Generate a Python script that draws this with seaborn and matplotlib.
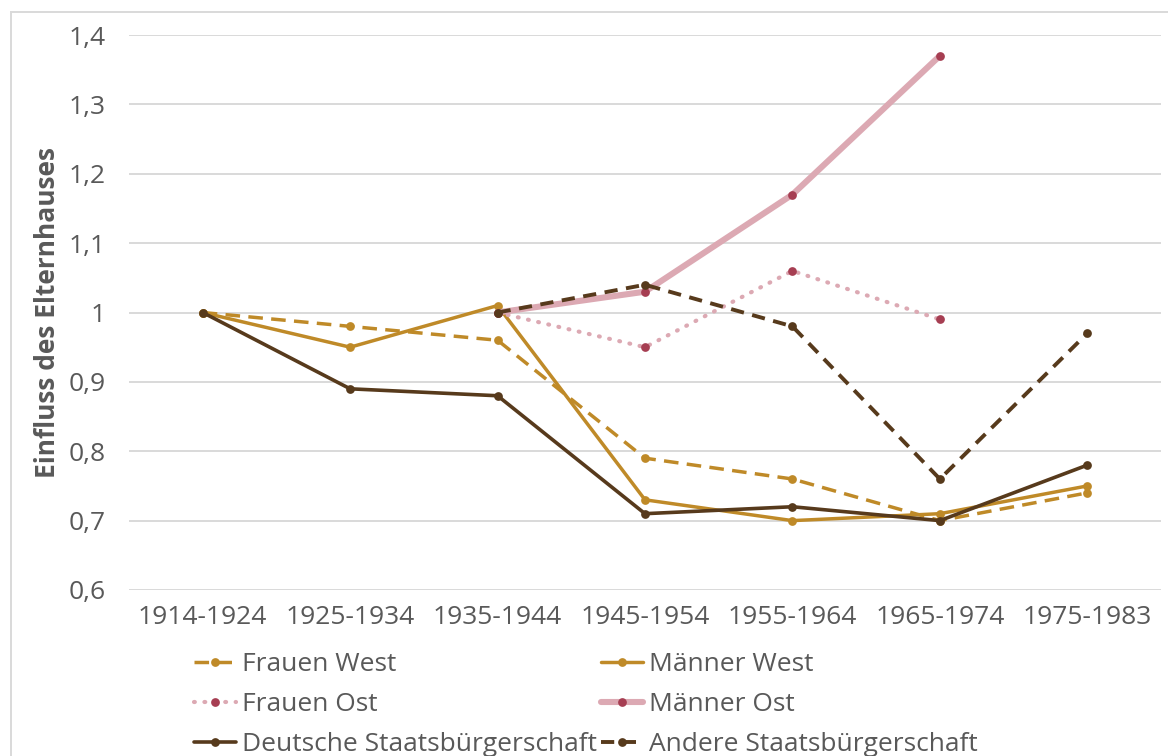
import numpy as np
import matplotlib
matplotlib.use("Agg")
import matplotlib.pyplot as plt
from matplotlib.patches import Rectangle
from matplotlib.ticker import FuncFormatter
import seaborn as sns

# Birth cohorts
cohorts = ["1914-1924", "1925-1934", "1935-1944", "1945-1954",
           "1955-1964", "1965-1974", "1975-1983"]

# Influence of the parental home, per group (None = no estimate)
frauen_west = [1.00, 0.98, 0.96, 0.79, 0.76, 0.70, 0.74]
maenner_west = [1.00, 0.95, 1.01, 0.73, 0.70, 0.71, 0.75]
frauen_ost = [None, None, 1.00, 0.95, 1.06, 0.99, None]
maenner_ost = [None, None, 1.00, 1.03, 1.17, 1.37, None]
deutsche = [1.00, 0.89, 0.88, 0.71, 0.72, 0.70, 0.78]
andere = [None, None, 1.00, 1.04, 0.98, 0.76, 0.97]

y_ticks = [0.6, 0.7, 0.8, 0.9, 1.0, 1.1, 1.2, 1.3, 1.4]

GOLD = "#BF8A28"
BROWN = "#573A1C"
PINK = "#DCA9B3"
BERRY = "#A63E52"
TEXT = "#595959"
GRID = "#D9D9D9"

sns.set_theme(style="white")
plt.rcParams["font.family"] = ["Open Sans", "DejaVu Sans"]

fig = plt.figure(figsize=(11.68, 7.56), dpi=100)
fig.patch.set_facecolor("white")

# Outer chart frame (runs off the right and bottom edges)
fig.patches.append(Rectangle((11 / 1168, -0.05), 1.2, 1.05 - 12 / 756,
                             transform=fig.transFigure, fill=False,
                             edgecolor=GRID, linewidth=1.4, zorder=0))

ax = fig.add_axes([129 / 1168, 1 - 590 / 756, (1161 - 129) / 1168, (590 - 35) / 756])

x = np.arange(len(cohorts))


def series(vals):
    return np.array([np.nan if v is None else v for v in vals], dtype=float)


common = dict(marker="o", markersize=6.3, markeredgewidth=0, estimator=None,
              sort=False, ax=ax)

sns.lineplot(x=x, y=series(frauen_west), color=GOLD, linewidth=2.5,
             linestyle=(0, (4.2, 2.4)), markerfacecolor=GOLD,
             label="Frauen West", **common)
sns.lineplot(x=x, y=series(maenner_west), color=GOLD, linewidth=2.5,
             markerfacecolor=GOLD, label="Männer West", **common)
sns.lineplot(x=x, y=series(frauen_ost), color=PINK, linewidth=3.0,
             linestyle=(0, (0.2, 2.3)), dash_capstyle="round",
             markerfacecolor=BERRY, label="Frauen Ost", **common)
sns.lineplot(x=x, y=series(maenner_ost), color=PINK, linewidth=4.4,
             markerfacecolor=BERRY, label="Männer Ost", **common)
sns.lineplot(x=x, y=series(deutsche), color=BROWN, linewidth=2.6,
             markerfacecolor=BROWN, label="Deutsche Staatsbürgerschaft", **common)
sns.lineplot(x=x, y=series(andere), color=BROWN, linewidth=2.8,
             linestyle=(0, (3.4, 2.2)), markerfacecolor=BROWN,
             label="Andere Staatsbürgerschaft", **common)

ax.set_xlim(-0.5, len(cohorts) - 0.5)
ax.set_ylim(y_ticks[0], y_ticks[-1])
ax.set_xticks(x)
ax.set_xticklabels(cohorts)
ax.set_yticks(y_ticks)
ax.yaxis.set_major_formatter(
    FuncFormatter(lambda v, _: f"{v:g}".replace(".", ",")))

ax.grid(axis="y", color=GRID, linewidth=1.4)
ax.grid(axis="x", visible=False)
ax.set_axisbelow(True)
for s in ax.spines.values():
    s.set_visible(False)

ax.tick_params(axis="both", length=0, labelsize=19, labelcolor=TEXT)
ax.tick_params(axis="y", pad=17)
ax.tick_params(axis="x", pad=11)

ax.set_xlabel("")
ax.set_ylabel("Einfluss des Elternhauses", fontsize=19, fontweight="bold",
              color=TEXT)
ax.yaxis.set_label_coords(-68 / 1032, 0.5)

handles, labels = ax.get_legend_handles_labels()
order = [0, 2, 4, 1, 3, 5]
leg = ax.legend([handles[i] for i in order], [labels[i] for i in order],
                ncol=2, loc="upper left",
                bbox_to_anchor=(194 / 1168, 1 - 652 / 756),
                bbox_transform=fig.transFigure,
                frameon=False, fontsize=19, handlelength=1.6,
                handletextpad=0.22, columnspacing=0.15, labelspacing=0.57,
                borderaxespad=0, borderpad=0)
for t in leg.get_texts():
    t.set_color(TEXT)

fig.savefig("out.png", dpi=100, facecolor="white")
